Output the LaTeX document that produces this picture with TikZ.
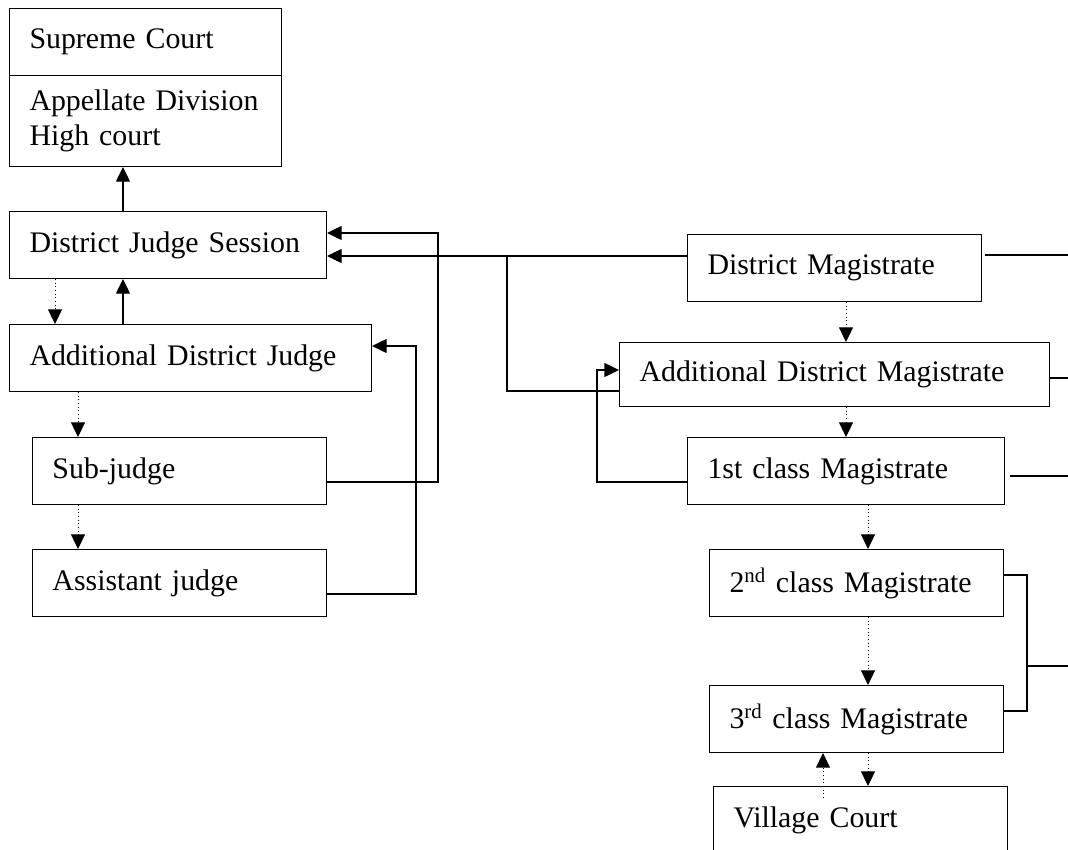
\documentclass[tikz,border=0pt]{standalone}
\usepackage{fontspec}
\setmainfont{Liberation Serif}
\usetikzlibrary{arrows.meta}

\begin{document}
\begin{tikzpicture}[x=0.75pt, y=-0.75pt,
    court/.style={draw, line width=0.75pt, anchor=north west, inner xsep=15pt, inner ysep=0pt,
      minimum height=50.25pt, align=left, text width=#1, font=\fontsize{22.4}{26.25}\selectfont},
    link/.style={line width=1pt},
    up/.style={link, -{Triangle[length=11pt,width=10.5pt]}},
    down/.style={line width=0.75pt, dotted, -{Triangle[length=11pt,width=10.5pt]}}]
  \useasboundingbox (0,0) rectangle (1068,850);
  % courts
  \node[court=174pt] (sc) at (9,8) {Supreme Court};
  \node[court=174pt, minimum height=68.25pt] (appel) at (9,75) {Appellate Division\\High court};
  \node[court=207.75pt] (djs) at (9,211) {District Judge Session};
  \node[court=241.5pt] (adj) at (9,324) {Additional District Judge};
  \node[court=190.5pt] (sub) at (32,437) {Sub-judge};
  \node[court=190.5pt] (asst) at (32,549) {Assistant judge};
  % magistrates
  \node[court=190.5pt] (dm) at (687,234) {District Magistrate};
  \node[court=292.5pt, minimum height=48pt] (adm) at (619,342) {Additional District Magistrate};
  \node[court=207.75pt] (first) at (687,437) {1st class Magistrate};
  \node[court=190.5pt] (second) at (709,549) {2\textsuperscript{nd} class Magistrate};
  \node[court=190.5pt] (third) at (709,685) {3\textsuperscript{rd} class Magistrate};
  \node[court=190.5pt] (village) at (713,786) {Village Court};
  \coordinate (rim) at (1068,0);
  \coordinate (vc) at ([yshift=-9pt]village.north);
  % left side
  \draw[up] (djs.north -| 123,0) -- (appel.south -| 123,0);
  \draw[down] (djs.south -| 55,0) -- (adj.north -| 55,0);
  \draw[up] (adj.north -| 123,0) -- (djs.south -| 123,0);
  \draw[down] (adj.south -| 78,0) -- (sub.north -| 78,0);
  \draw[down] (sub.south -| 78,0) -- (asst.north -| 78,0);
  \draw[up] (sub.east |- 0,482) -| (438,233) -- (djs.east |- 0,233);
  \draw[up] (asst.east |- 0,594) -| (416,346) -- (adj.east |- 0,346);
  % middle
  \draw[up] (dm.west |- 0,256) -- (djs.east |- 0,256);
  \draw[link] (507,256) -- (507,391) -- (adm.west |- 0,391);
  \draw[up] (first.west |- 0,482) -| (597,370) -- (adm.west |- 0,370);
  % right side
  \draw[link, shorten <=2pt] (dm.east |- 0,255) -- (rim |- 0,255);
  \draw[link] (adm.east |- 0,378) -- (rim |- 0,378);
  \draw[link, shorten <=4pt] (first.east |- 0,476) -- (rim |- 0,476);
  \draw[link] (second.east |- 0,575) -| (1027,711) -- (third.east |- 0,711);
  \draw[link] (1027,666) -- (rim |- 0,666);
  \draw[down] (dm.south -| 846,0) -- (adm.north -| 846,0);
  \draw[down] (adm.south -| 846,0) -- (first.north -| 846,0);
  \draw[down] (first.south -| 868,0) -- (second.north -| 868,0);
  \draw[down] (second.south -| 868,0) -- (third.north -| 868,0);
  \draw[down] (third.south -| 868,0) -- (village.north -| 868,0);
  \draw[down] (vc -| 823,0) -- (third.south -| 823,0);
\end{tikzpicture}
\end{document}
